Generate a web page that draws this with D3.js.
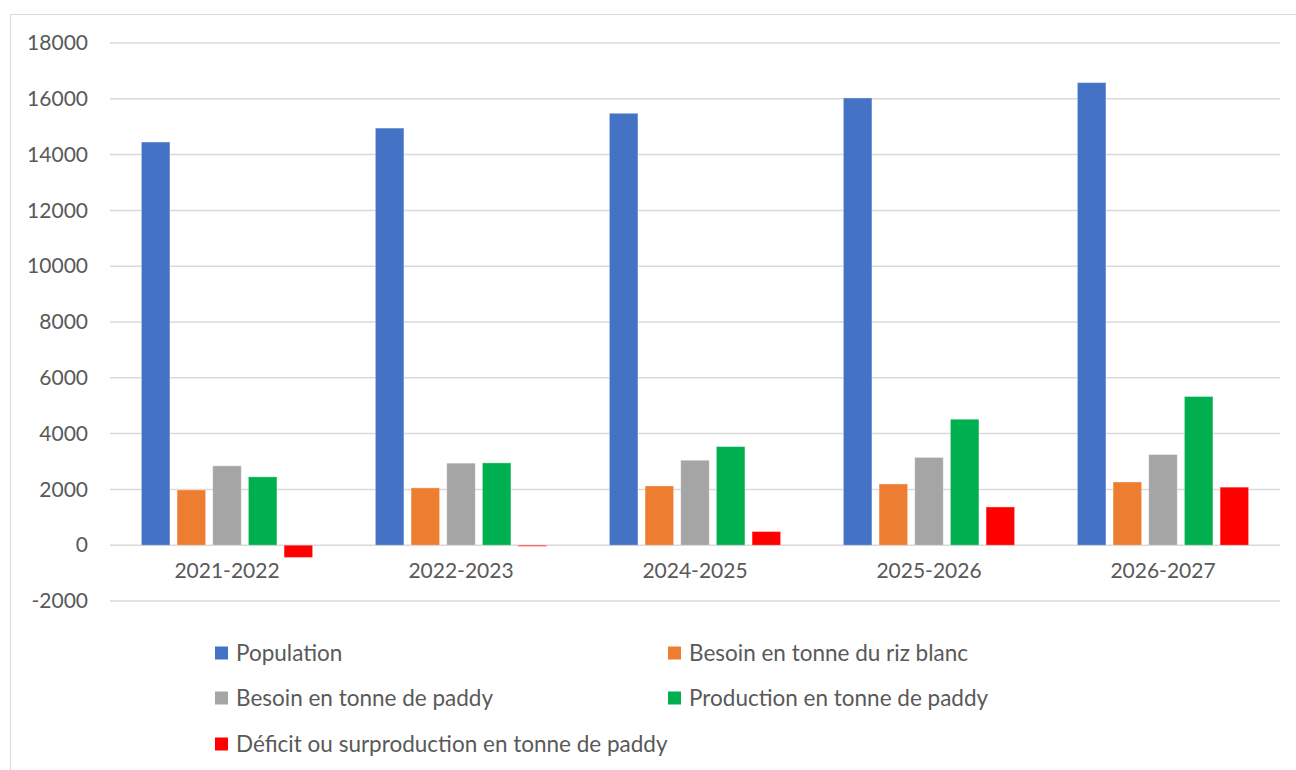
<!DOCTYPE html>
<html>
<head>
<meta charset="utf-8">
<script src="https://cdn.jsdelivr.net/npm/d3@7"></script>
<style>
  body { margin: 0; background: #fff; }
  .chart text { font-family: Lato, "Open Sans", sans-serif; fill: #595959; }
</style>
</head>
<body>
<svg class="chart"></svg>
<script>
// DATA
var categories = ["2021-2022", "2022-2023", "2024-2025", "2025-2026", "2026-2027"];
var seriesNames = ["Population", "Besoin en tonne du riz blanc", "Besoin en tonne de paddy",
                   "Production en tonne de paddy", "Déficit ou surproduction en tonne de paddy"];
var population = [14450, 14950, 15480, 16030, 16580];
var besoinRiz = [1980, 2055, 2125, 2195, 2265];
var besoinPaddy = [2845, 2940, 3045, 3145, 3250];
var production = [2450, 2950, 3535, 4515, 5330];
var deficit = [-440, -40, 490, 1370, 2080];
var yTicks = [-2000, 0, 2000, 4000, 6000, 8000, 10000, 12000, 14000, 16000, 18000];
var colors = ["#4472C4", "#ED7D31", "#A5A5A5", "#00B050", "#FF0000"];

var allSeries = [population, besoinRiz, besoinPaddy, production, deficit];

var margin = {top: 43, left: 110},
    width = 1170,
    plotHeight = 558;

var svg = d3.select(".chart")
    .attr("width", 1296)
    .attr("height", 770);

// chart border
svg.append("rect")
    .attr("x", 10.5).attr("y", 14.5)
    .attr("width", 1300).attr("height", 800)
    .attr("fill", "none")
    .attr("stroke", "#d9d9d9")
    .attr("stroke-width", 1);

var g = svg.append("g")
    .attr("transform", "translate(" + margin.left + "," + margin.top + ")");

var y = d3.scaleLinear()
    .domain([-2000, 18000])
    .range([plotHeight, 0]);

var x0 = d3.scaleBand()
    .domain(categories)
    .range([0, width]);

var x1 = d3.scaleBand()
    .domain(d3.range(seriesNames.length))
    .range([0, x0.bandwidth()])
    .paddingInner(0.2)
    .paddingOuter(0.88);

// GRIDLINES
g.selectAll(".grid").data(yTicks).enter().append("line")
    .attr("class", "grid")
    .attr("x1", 0).attr("x2", width)
    .attr("y1", function(d) { return y(d); })
    .attr("y2", function(d) { return y(d); })
    .attr("stroke", "#d9d9d9")
    .attr("stroke-width", 1.5);

// Y AXIS LABELS (plain hyphen for negatives, like the original)
var yAxis = d3.axisLeft(y).tickValues(yTicks)
    .tickFormat(function(d) { return String(d); })
    .tickSize(0).tickPadding(22);
g.append("g")
    .call(yAxis)
    .call(function(a) { a.select(".domain").remove(); })
    .selectAll("text")
      .style("font-size", "21px")
      .attr("fill", "#595959");

// BARS
var cat = g.selectAll(".cat").data(categories).enter().append("g")
    .attr("class", "cat")
    .attr("transform", function(d) { return "translate(" + x0(d) + ",0)"; });

cat.selectAll("rect")
    .data(function(d, i) { return allSeries.map(function(s, k) { return {k: k, v: s[i]}; }); })
    .enter().append("rect")
      .attr("x", function(d) { return x1(d.k); })
      .attr("width", x1.bandwidth())
      .attr("y", function(d) { return y(Math.max(0, d.v)); })
      .attr("height", function(d) { return Math.abs(y(d.v) - y(0)); })
      .attr("fill", function(d) { return colors[d.k]; })
      .attr("stroke", "#fff")
      .attr("stroke-opacity", 0.35)
      .attr("stroke-width", 1);

// X AXIS LABELS
g.selectAll(".xlabel").data(categories).enter().append("text")
    .attr("class", "xlabel")
    .attr("x", function(d) { return x0(d) + x0.bandwidth() / 2; })
    .attr("y", y(0) + 33)
    .attr("text-anchor", "middle")
    .style("font-size", "21px")
    .text(function(d) { return d; });

// LEGEND
var legendPos = [[215, 653], [668, 653], [215, 698], [668, 698], [215, 744]];
var legend = svg.selectAll(".legend").data(seriesNames).enter().append("g")
    .attr("class", "legend")
    .attr("transform", function(d, i) { return "translate(" + legendPos[i][0] + "," + legendPos[i][1] + ")"; });

legend.append("rect")
    .attr("x", 0).attr("y", -6.5)
    .attr("width", 13).attr("height", 13)
    .attr("fill", function(d, i) { return colors[i]; });

legend.append("text")
    .attr("x", 21).attr("y", 0)
    .attr("dy", "0.35em")
    .style("font-size", "22.5px")
    .text(function(d) { return d; });
</script>
</body>
</html>
